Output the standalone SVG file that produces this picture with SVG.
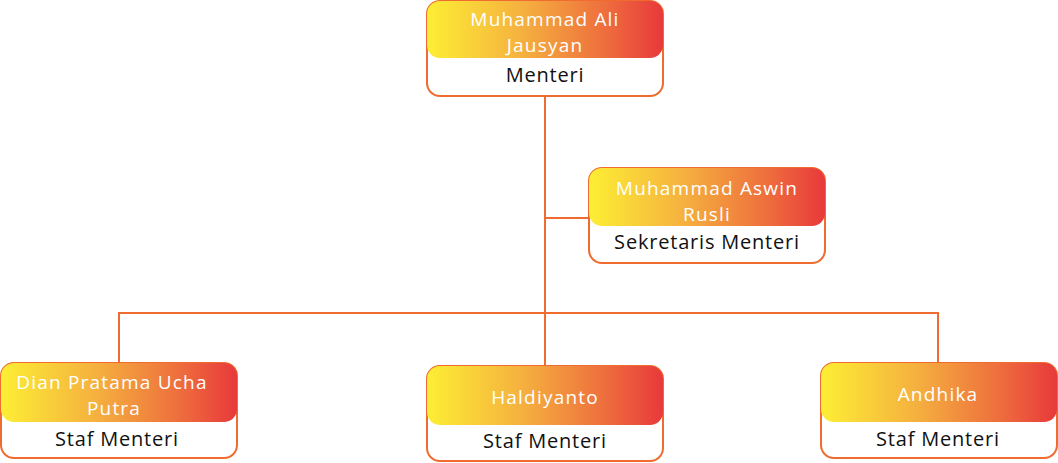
<svg xmlns="http://www.w3.org/2000/svg" width="1058" height="463" viewBox="0 0 1058 463">
<defs>
<linearGradient id="hg" x1="0" y1="0" x2="1" y2="0">
<stop offset="0" stop-color="#fdee34"/>
<stop offset="0.4" stop-color="#f5b13f"/>
<stop offset="0.75" stop-color="#ee6f3d"/>
<stop offset="1" stop-color="#e8393b"/>
</linearGradient>
<style>
.box{fill:#fff;stroke:#ef6b2f;stroke-width:2}
.hd{fill:url(#hg)}
.name{fill:#fff;font-family:"Open Sans","Noto Sans",sans-serif;font-size:19px;letter-spacing:1.2px;text-anchor:middle}
.role{fill:#111;font-family:"Open Sans","Noto Sans",sans-serif;font-size:20px;letter-spacing:0.8px;text-anchor:middle}
.ln{fill:none;stroke:#ef6b2f;stroke-width:2}
</style>
</defs>
<g id="connectors">
<path class="ln" d="M545 96V366"/>
<path class="ln" d="M545 218H589"/>
<path class="ln" d="M119 363V313H938V363"/>
</g>
<g id="n-menteri">
<rect class="box" x="427" y="1" width="236" height="95" rx="13"/>
<rect class="hd" x="427" y="1" width="236" height="57" rx="13"/>
<text class="name" x="545" y="26">Muhammad Ali</text>
<text class="name" x="545" y="52">Jausyan</text>
<text class="role" x="545" y="82">Menteri</text>
</g>
<g id="n-sekretaris">
<rect class="box" x="589" y="168" width="236" height="95" rx="13"/>
<rect class="hd" x="589" y="168" width="236" height="58" rx="13"/>
<text class="name" x="707" y="195">Muhammad Aswin</text>
<text class="name" x="707" y="221">Rusli</text>
<text class="role" x="707" y="249">Sekretaris Menteri</text>
</g>
<g id="n-dian">
<rect class="box" x="1" y="363" width="236" height="95" rx="13"/>
<rect class="hd" x="1" y="363" width="236" height="59" rx="13"/>
<text class="name" x="112" y="389">Dian Pratama Ucha</text>
<text class="name" x="114" y="415">Putra</text>
<text class="role" x="117" y="446">Staf Menteri</text>
</g>
<g id="n-haldiyanto">
<rect class="box" x="427" y="366" width="236" height="95" rx="13"/>
<rect class="hd" x="427" y="366" width="236" height="59" rx="13"/>
<text class="name" x="545" y="404">Haldiyanto</text>
<text class="role" x="545" y="448">Staf Menteri</text>
</g>
<g id="n-andhika">
<rect class="box" x="821" y="363" width="236" height="95" rx="13"/>
<rect class="hd" x="821" y="363" width="236" height="59" rx="13"/>
<text class="name" x="938" y="401">Andhika</text>
<text class="role" x="938" y="446">Staf Menteri</text>
</g>
</svg>
